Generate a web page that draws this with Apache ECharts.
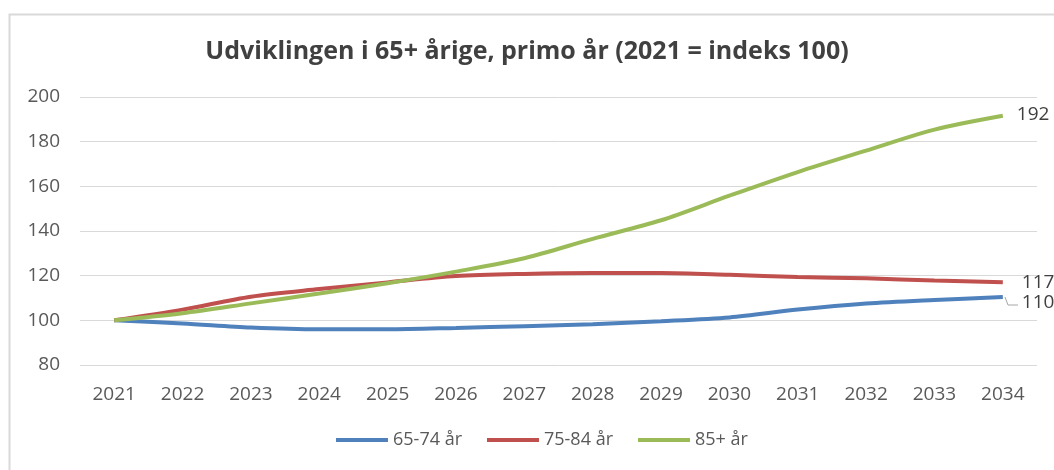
<!DOCTYPE html>
<html>
<head>
    <meta charset="utf-8">
    <title>Udviklingen i 65+ årige</title>
    <script src="https://cdn.jsdelivr.net/npm/echarts@6/dist/echarts.min.js"></script>
    <style>
        body { margin: 0; background: #fff; }
    </style>
</head>
<body>
    <div id="main" style="width: 1054px;height:470px;"></div>
    <script type="text/javascript">
        // data
        var years = ['2021', '2022', '2023', '2024', '2025', '2026', '2027',
                     '2028', '2029', '2030', '2031', '2032', '2033', '2034'];
        var age6574 = [100, 98.6, 96.8, 96, 96, 96.6, 97.4, 98.3, 99.6, 101.3, 104.8, 107.5, 109.1, 110.4];
        var age7584 = [100, 104.8, 110.6, 114, 117, 119.8, 120.8, 121.2, 121.2, 120.4, 119.4, 118.8, 117.8, 117.1];
        var age85 = [100, 103.2, 107.6, 112, 116.6, 121.8, 127.8, 136.5, 144.8, 155.8, 166.4, 176, 185.4, 191.6];
        var endLabels = ['110', '117', '192'];
        var names = ['65-74 år', '75-84 år', '85+ år'];
        var colors = ['#4F81BD', '#C0504D', '#9BBB59'];

        var font = 'Open Sans';
        var myChart = echarts.init(document.getElementById('main'));

        var allData = [age6574, age7584, age85];
        // label offsets at the line ends: [dx, dy]
        var offsets = [[6, 5], [6, 0], [1, -1]];
        var series = [];
        for (var s = 0; s < 3; s++) {
            series.push({
                name: names[s],
                type: 'line',
                smooth: 0.3,
                symbol: 'none',
                lineStyle: { width: 4, color: colors[s] },
                itemStyle: { color: colors[s] },
                endLabel: {
                    show: true,
                    formatter: endLabels[s],
                    distance: 13,
                    offset: offsets[s],
                    color: '#404040',
                    fontSize: 19,
                    fontFamily: font
                },
                data: allData[s]
            });
        }

        var option = {
            animation: false,
            backgroundColor: '#fff',
            title: {
                text: 'Udviklingen i 65+ årige, primo år (2021 = indeks 100)',
                left: 'center',
                top: 34,
                textStyle: {
                    fontFamily: font,
                    fontSize: 25,
                    fontWeight: 'bold',
                    color: '#404040'
                }
            },
            graphic: [{
                type: 'rect',
                left: 7,
                top: 12,
                shape: { width: 1070, height: 480 },
                style: { fill: 'none', stroke: '#d9d9d9', lineWidth: 2 },
                silent: true
            }, {
                // leader line for the 110 label
                type: 'polyline',
                shape: { points: [[1005, 297], [1008, 305], [1018, 305]] },
                style: { stroke: '#a6a6a6', lineWidth: 1, fill: 'none' },
                silent: true
            }],
            color: colors,
            legend: {
                data: names,
                bottom: 16,
                left: 331,
                itemWidth: 52,
                itemHeight: 4,
                itemGap: 25,
                icon: 'rect',
                textStyle: { fontFamily: font, fontSize: 18, color: '#595959' }
            },
            grid: {
                left: 80,
                right: 17,
                top: 97,
                bottom: 105
            },
            xAxis: {
                type: 'category',
                boundaryGap: true,
                data: years,
                axisLine: { show: false },
                axisTick: { show: false },
                axisLabel: { margin: 20, fontFamily: font, fontSize: 19, color: '#595959' }
            },
            yAxis: {
                type: 'value',
                min: 80,
                max: 200,
                interval: 20,
                axisLine: { show: false },
                axisTick: { show: false },
                splitLine: { lineStyle: { color: '#d9d9d9', width: 1 } },
                axisLabel: { margin: 20, fontFamily: font, fontSize: 19, color: '#595959' }
            },
            series: series
        };

        myChart.setOption(option);
    </script>
</body>
</html>
